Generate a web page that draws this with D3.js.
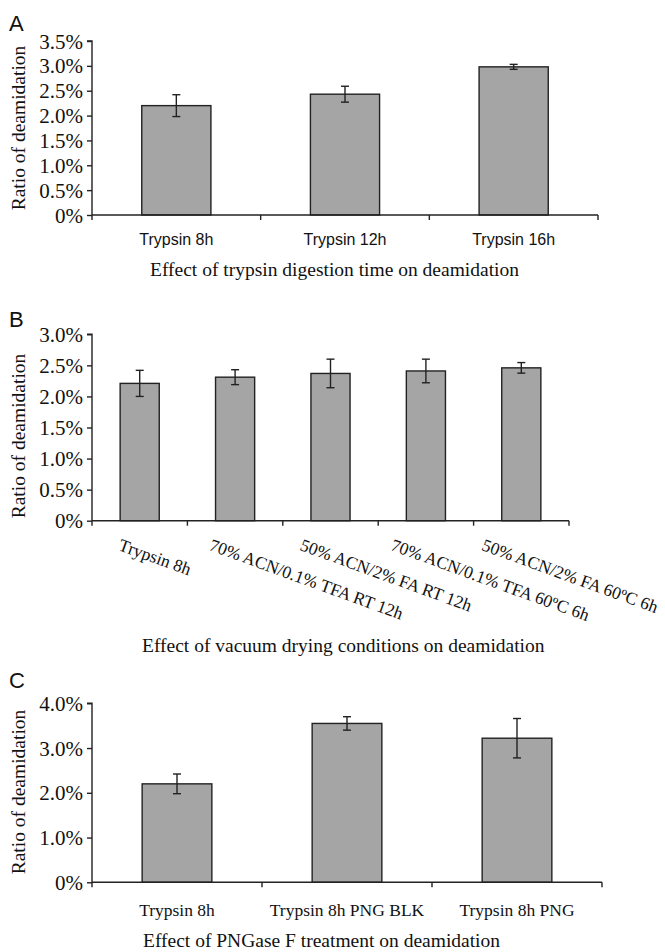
<!DOCTYPE html>
<html>
<head>
<meta charset="utf-8">
<script src="https://cdn.jsdelivr.net/npm/d3@7"></script>
<style>
  html, body { margin: 0; padding: 0; background: #fff; }
  svg { display: block; }
</style>
</head>
<body>
<svg id="chart" width="665" height="952"></svg>
<script>
// ---- Data ----
const catsA = ["Trypsin 8h", "Trypsin 12h", "Trypsin 16h"];
const valsA = [2.20, 2.43, 2.98];
const errA  = [0.22, 0.16, 0.05];
const ticksA = [0, 0.5, 1.0, 1.5, 2.0, 2.5, 3.0, 3.5];

const catsB = ["Trypsin 8h", "70% ACN/0.1% TFA RT 12h", "50% ACN/2% FA RT 12h", "70% ACN/0.1% TFA 60ºC 6h", "50% ACN/2% FA 60ºC 6h"];
const valsB = [2.21, 2.31, 2.37, 2.41, 2.46];
const errB  = [0.21, 0.12, 0.23, 0.19, 0.085];
const ticksB = [0, 0.5, 1.0, 1.5, 2.0, 2.5, 3.0];

const catsC = ["Trypsin 8h", "Trypsin 8h PNG BLK", "Trypsin 8h PNG"];
const valsC = [2.20, 3.55, 3.22];
const errC  = [0.22, 0.15, 0.44];
const ticksC = [0, 1.0, 2.0, 3.0, 4.0];

const yTitle = "Ratio of deamidation";
const captions = ["Effect of trypsin digestion time on deamidation",
                  "Effect of vacuum drying conditions on deamidation",
                  "Effect of PNGase F treatment on deamidation"];
const letters = ["A", "B", "C"];

// ---- Styles ----
const SERIF = "'Liberation Serif','Times New Roman',serif";
const SANS = "'Liberation Sans',Arial,sans-serif";
const BAR_FILL = "#a5a5a5";
const INK = "#222";

const svg = d3.select("#chart");
const fmt = d => d === 0 ? "0%" : d.toFixed(1) + "%";

const panels = [
  { cats: catsA, vals: valsA, errs: errA, ticks: ticksA, max: 3.5,
    left: 92, right: 598, top: 41, bottom: 215, titleY: 128,
    letterY: 30.5, capX: 150, capY: 276, labelMode: "sans" },
  { cats: catsB, vals: valsB, errs: errB, ticks: ticksB, max: 3.0,
    left: 92, right: 569, top: 334.3, bottom: 520.7, titleY: 436,
    letterY: 327, capX: 142, capY: 652, labelMode: "rot" },
  { cats: catsC, vals: valsC, errs: errC, ticks: ticksC, max: 4.0,
    left: 92, right: 602, top: 703.3, bottom: 882.3, titleY: 792,
    letterY: 688, capX: 143, capY: 946.5, labelMode: "serif" }
];

panels.forEach((p, pi) => {
  const g = svg.append("g");
  const x = d3.scaleBand().domain(p.cats).range([p.left, p.right]).paddingInner(0).paddingOuter(0);
  const y = d3.scaleLinear().domain([0, p.max]).range([p.bottom, p.top]);
  const bw = x.bandwidth() * 0.41;

  // bars
  g.selectAll("rect.bar").data(p.cats).join("rect")
    .attr("x", d => x(d) + (x.bandwidth() - bw) / 2)
    .attr("y", (d, i) => y(p.vals[i]))
    .attr("width", bw)
    .attr("height", (d, i) => y(0) - y(p.vals[i]))
    .attr("fill", BAR_FILL).attr("stroke", INK).attr("stroke-width", 1.4);

  // error bars
  const eb = g.selectAll("g.err").data(p.cats).join("g")
    .attr("stroke", INK).attr("stroke-width", 1.4);
  eb.append("line")
    .attr("x1", d => x(d) + x.bandwidth() / 2).attr("x2", d => x(d) + x.bandwidth() / 2)
    .attr("y1", (d, i) => y(p.vals[i] + p.errs[i])).attr("y2", (d, i) => y(p.vals[i] - p.errs[i]));
  eb.append("line")
    .attr("x1", d => x(d) + x.bandwidth() / 2 - 4).attr("x2", d => x(d) + x.bandwidth() / 2 + 4)
    .attr("y1", (d, i) => y(p.vals[i] + p.errs[i])).attr("y2", (d, i) => y(p.vals[i] + p.errs[i]));
  eb.append("line")
    .attr("x1", d => x(d) + x.bandwidth() / 2 - 4).attr("x2", d => x(d) + x.bandwidth() / 2 + 4)
    .attr("y1", (d, i) => y(p.vals[i] - p.errs[i])).attr("y2", (d, i) => y(p.vals[i] - p.errs[i]));

  // y axis
  const yAxis = d3.axisLeft(y).tickValues(p.ticks).tickFormat(fmt).tickSize(5).tickPadding(4);
  const yg = g.append("g").attr("transform", `translate(${p.left},0)`).call(yAxis);
  yg.select(".domain").attr("stroke", INK).attr("stroke-width", 1.4)
    .attr("d", `M-5,${p.top}H0V${p.bottom + 5}`);
  yg.selectAll(".tick line").attr("stroke", INK).attr("stroke-width", 1.4);
  yg.selectAll(".tick text").attr("font-family", SERIF).attr("font-size", 21)
    .attr("fill", "#111").attr("dy", "0.34em");

  // x axis (ticks at category boundaries)
  const bounds = p.cats.map(c => x(c)).concat([p.right]);
  const xg = g.append("g");
  xg.append("line").attr("x1", p.left).attr("x2", p.right).attr("y1", p.bottom).attr("y2", p.bottom)
    .attr("stroke", INK).attr("stroke-width", 1.4);
  xg.selectAll("line.tk").data(bounds.slice(1)).join("line")
    .attr("x1", d => d).attr("x2", d => d).attr("y1", p.bottom).attr("y2", p.bottom + 5)
    .attr("stroke", INK).attr("stroke-width", 1.4);

  // category labels
  if (p.labelMode === "sans") {
    xg.selectAll("text").data(p.cats).join("text")
      .attr("x", d => x(d) + x.bandwidth() / 2).attr("y", p.bottom + 30)
      .attr("text-anchor", "middle").attr("font-family", SANS).attr("font-size", 16)
      .attr("fill", "#111").text(d => d);
  } else if (p.labelMode === "serif") {
    xg.selectAll("text").data(p.cats).join("text")
      .attr("x", d => x(d) + x.bandwidth() / 2).attr("y", p.bottom + 33.5)
      .attr("text-anchor", "middle").attr("font-family", SERIF).attr("font-size", 17.5)
      .attr("fill", "#111").text(d => d);
  } else {
    xg.selectAll("text").data(p.cats).join("text")
      .attr("transform", d => {
        const cx = x(d) + x.bandwidth() / 2;
        const lx = p.left + (cx - p.left) * 0.952 - 20;
        return `translate(${lx},${p.bottom + 29}) rotate(20)`;
      })
      .attr("text-anchor", "start").attr("font-family", SERIF).attr("font-size", 17.5)
      .attr("fill", "#111").text(d => d);
  }

  // y title
  g.append("text").attr("transform", `translate(25,${p.titleY}) rotate(-90)`)
    .attr("text-anchor", "middle").attr("font-family", SERIF).attr("font-size", 19.5)
    .attr("fill", "#111").text(yTitle);

  // panel letter
  g.append("text").attr("x", 9).attr("y", p.letterY)
    .attr("font-family", SANS).attr("font-size", 22).attr("fill", "#111").text(letters[pi]);

  // caption
  g.append("text").attr("x", p.capX).attr("y", p.capY)
    .attr("font-family", SERIF).attr("font-size", 19.5).attr("fill", "#111").text(captions[pi]);
});
</script>
</body>
</html>
